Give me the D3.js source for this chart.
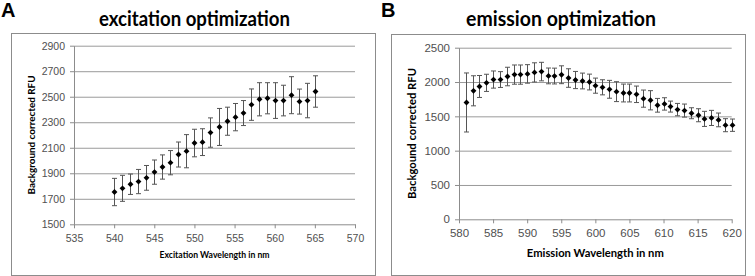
<!DOCTYPE html>
<html>
<head>
<meta charset="utf-8">
<script src="https://cdn.jsdelivr.net/npm/d3@7"></script>
<style>
    body { margin: 0; background: #fff; }
    svg { display: block; font-family: Lato, "Liberation Sans", Arial, sans-serif; }
    .frame { fill: #fff; stroke: #8c8c8c; stroke-width: 1; }
    .grid line { stroke: #9a9a9a; stroke-width: 1; }
    .grid path { display: none; }
    .axis path, .axis line { stroke: #8c8c8c; }
    .axis text { fill: #505050; }
    .errbar { stroke: #555; stroke-width: 1; fill: none; }
    .marker { fill: #000; }
</style>
</head>
<body>
<script>
(function(){

    /////////// DATA //////////
    // panel A - excitation scan
    const exWavelength = [540, 541, 542, 543, 544, 545, 546, 547, 548, 549, 550, 551, 552,
                          553, 554, 555, 556, 557, 558, 559, 560, 561, 562, 563, 564, 565];
    const exRFU = [1753, 1782, 1814, 1835, 1864, 1909, 1949, 1983, 2047, 2073, 2137, 2144, 2219,
                   2263, 2308, 2340, 2372, 2438, 2480, 2488, 2470, 2470, 2512, 2462, 2470, 2541];
    const exError = [107, 102, 80, 95, 97, 95, 95, 95, 98, 130, 108, 105, 115,
                     145, 110, 107, 98, 123, 130, 122, 140, 120, 145, 98, 135, 123];
    const exXTicks = [535, 540, 545, 550, 555, 560, 565, 570];
    const exYTicks = [1500, 1700, 1900, 2100, 2300, 2500, 2700, 2900];

    // panel B - emission scan
    const emWavelength = [581, 582, 583, 584, 585, 586, 587, 588, 589, 590, 591, 592, 593, 594,
                          595, 596, 597, 598, 599, 600, 601, 602, 603, 604, 605, 606, 607,
                          608, 609, 610, 611, 612, 613, 614, 615, 616, 617, 618, 619, 620];
    const emRFU = [1702, 1872, 1935, 1988, 2036, 2036, 2080, 2108, 2108, 2118, 2140, 2152, 2089, 2087,
                   2106, 2058, 2029, 2015, 2000, 1947, 1923, 1894, 1860, 1840, 1840, 1821, 1758,
                   1734, 1661, 1681, 1642, 1598, 1584, 1545, 1516, 1463, 1477, 1448, 1371, 1371];
    const emError = [430, 219, 160, 125, 125, 115, 135, 140, 140, 135, 140, 135, 115, 115,
                     130, 135, 125, 115, 115, 110, 110, 130, 145, 130, 130, 120, 125,
                     140, 100, 90, 80, 90, 95, 80, 95, 110, 110, 100, 95, 90];
    const emXTicks = [580, 585, 590, 595, 600, 605, 610, 615, 620];
    const emYTicks = [0, 500, 1000, 1500, 2000, 2500];

    /////////// LAYOUT //////////
    const width = 755;
    const height = 276;

    const panels = [
        {
            letter: "A", letterX: 1,
            title: "excitation optimization", titleX: 194.5, titleLen: 191,
            frame: [11, 33, 364, 242],
            x0: 74, x1: 355, y0: 224.3, y1: 45.7,
            xDomain: [535, 570], yDomain: [1500, 2900],
            xTicks: exXTicks, yTicks: exYTicks,
            tickFont: 10.5,
            xLabel: "Excitation Wavelength in nm", xLabelY: 258, xLabelLen: 110, xLabelFont: 10,
            yLabel: "Background corrected RFU", yLabelX: 35, yLabelLen: 119, yLabelFont: 10,
            xs: exWavelength, ys: exRFU, errs: exError
        },
        {
            letter: "B", letterX: 381,
            title: "emission optimization", titleX: 561, titleLen: 190,
            frame: [391, 34, 354, 241],
            x0: 459, x1: 731.7, y0: 219.3, y1: 47.7,
            xDomain: [580, 620], yDomain: [0, 2500],
            xTicks: emXTicks, yTicks: emYTicks,
            tickFont: 11.5,
            xLabel: "Emission Wavelength in nm", xLabelY: 256.5, xLabelLen: 137, xLabelFont: 11.5,
            yLabel: "Backgound corrected RFU", yLabelX: 415.5, yLabelLen: 131, yLabelFont: 11.5,
            xs: emWavelength, ys: emRFU, errs: emError
        }
    ];

    const svg = d3.select("body").append("svg")
        .attr("width", width)
        .attr("height", height);

    panels.forEach(p => drawPanel(svg, p));

    /////////// DRAWING //////////
    function drawPanel(svg, p) {
        const g = svg.append("g");

        // chart frame
        g.append("rect")
            .attr("class", "frame")
            .attr("x", p.frame[0] + 0.5).attr("y", p.frame[1] + 0.5)
            .attr("width", p.frame[2]).attr("height", p.frame[3]);

        // panel letter and title
        g.append("text")
            .attr("x", p.letterX).attr("y", 17)
            .style("font-size", "20px").style("font-weight", "bold")
            .style("font-family", "'Liberation Sans', Arial, sans-serif")
            .text(p.letter);

        g.append("text")
            .attr("x", p.titleX).attr("y", 25.5)
            .attr("text-anchor", "middle")
            .attr("textLength", p.titleLen).attr("lengthAdjust", "spacingAndGlyphs")
            .style("font-size", "20px").style("font-weight", "bold")
            .text(p.title);

        const x = d3.scaleLinear().domain(p.xDomain).range([p.x0, p.x1]);
        const y = d3.scaleLinear().domain(p.yDomain).range([p.y0, p.y1]);

        // horizontal gridlines
        g.append("g")
            .attr("class", "grid")
            .attr("transform", `translate(${p.x0},0)`)
            .call(d3.axisLeft(y).tickValues(p.yTicks.slice(1)).tickSize(-(p.x1 - p.x0)).tickFormat(""));

        // y axis
        const yAxis = g.append("g")
            .attr("class", "axis")
            .attr("transform", `translate(${p.x0},0)`)
            .call(d3.axisLeft(y).tickValues(p.yTicks).tickSize(4).tickSizeOuter(0).tickPadding(5).tickFormat(d3.format("d")));
        yAxis.selectAll("text").style("font-size", p.tickFont + "px");

        // x axis
        const xAxis = g.append("g")
            .attr("class", "axis")
            .attr("transform", `translate(0,${p.y0})`)
            .call(d3.axisBottom(x).tickValues(p.xTicks).tickSize(4).tickSizeOuter(0).tickPadding(6).tickFormat(d3.format("d")));
        xAxis.selectAll("text").style("font-size", p.tickFont + "px");
        xAxis.select(".domain").style("stroke", "#8c8c8c");

        // axis titles
        g.append("text")
            .attr("x", (p.x0 + p.x1) / 2).attr("y", p.xLabelY)
            .attr("text-anchor", "middle")
            .attr("textLength", p.xLabelLen).attr("lengthAdjust", "spacingAndGlyphs")
            .style("font-size", p.xLabelFont + "px").style("font-weight", "bold")
            .text(p.xLabel);

        g.append("text")
            .attr("transform", `translate(${p.yLabelX},${(p.y0 + p.y1) / 2}) rotate(-90)`)
            .attr("text-anchor", "middle")
            .attr("textLength", p.yLabelLen).attr("lengthAdjust", "spacingAndGlyphs")
            .style("font-size", p.yLabelFont + "px").style("font-weight", "bold")
            .text(p.yLabel);

        const rows = p.xs.map((d, i) => ({x: d, y: p.ys[i], e: p.errs[i]}));
        const cap = 2.5;

        // error bars (vertical line + caps)
        g.append("g").selectAll("path")
            .data(rows)
            .join("path")
            .attr("class", "errbar")
            .attr("d", d => {
                const cx = Math.round(x(d.x)) + 0.5;
                const top = y(d.y + d.e);
                const bot = y(d.y - d.e);
                return `M${cx},${top}V${bot}M${cx - cap},${top}H${cx + cap}M${cx - cap},${bot}H${cx + cap}`;
            });

        // diamond markers
        g.append("g").selectAll("path")
            .data(rows)
            .join("path")
            .attr("class", "marker")
            .attr("transform", d => `translate(${Math.round(x(d.x)) + 0.5},${y(d.y)}) rotate(45)`)
            .attr("d", d3.symbol().type(d3.symbolSquare).size(17));
    }
})();
</script>
</body>
</html>
